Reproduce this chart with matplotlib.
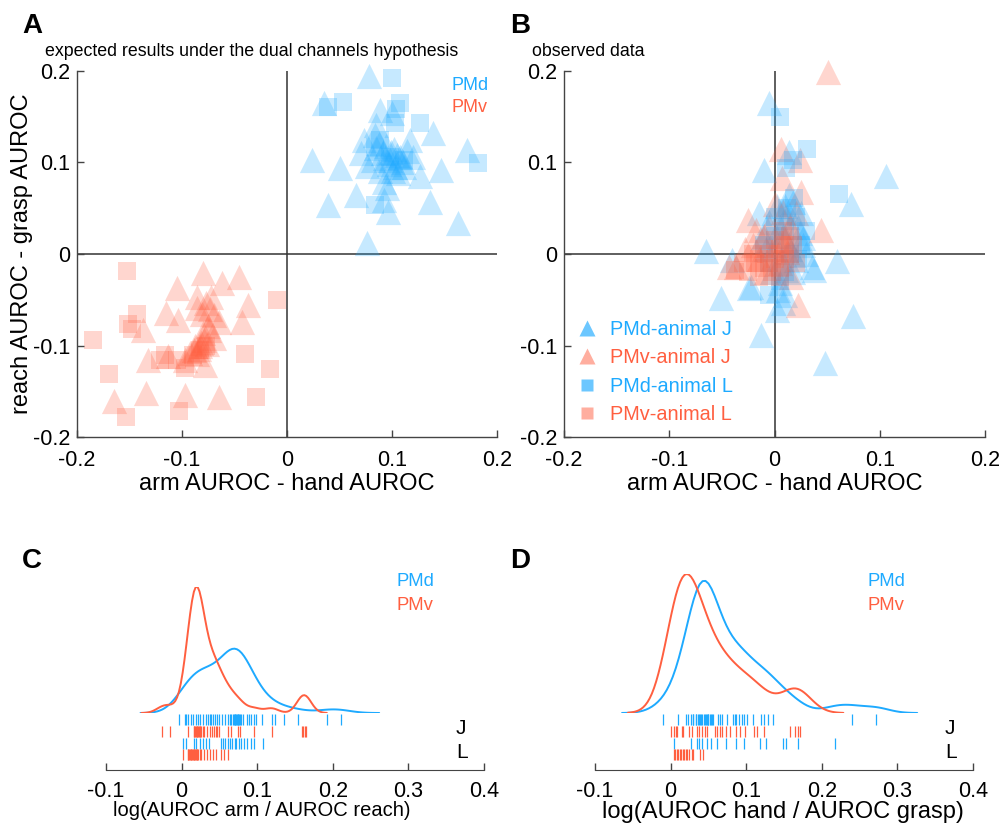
import numpy as np
import matplotlib
matplotlib.use("Agg")
import matplotlib.pyplot as plt
from matplotlib.lines import Line2D

plt.rcParams['font.family'] = ['Liberation Sans', 'DejaVu Sans']
plt.rcParams['axes.unicode_minus'] = False

# ---- data: panel A (expected), (x, y) pairs ----
a_pmd_j = [(0.078, 0.194), (0.035, 0.165), (0.089, 0.157), (0.100, 0.154), (0.139, 0.132),
           (0.085, 0.141), (0.073, 0.125), (0.117, 0.125), (0.171, 0.114), (0.024, 0.103),
           (0.050, 0.094), (0.070, 0.110), (0.085, 0.116), (0.091, 0.110), (0.098, 0.103),
           (0.108, 0.106), (0.114, 0.113), (0.120, 0.106), (0.103, 0.095), (0.089, 0.091),
           (0.082, 0.103), (0.076, 0.096), (0.147, 0.092), (0.127, 0.085), (0.092, 0.079),
           (0.095, 0.072), (0.066, 0.064), (0.092, 0.059), (0.039, 0.054), (0.136, 0.057),
           (0.096, 0.046), (0.163, 0.034), (0.076, 0.012), (0.101, 0.091), (0.111, 0.095),
           (0.094, 0.118), (0.105, 0.108), (0.099, 0.112), (0.088, 0.120), (0.110, 0.100),
           (0.097, 0.098), (0.102, 0.115), (0.093, 0.105), (0.106, 0.088), (0.084, 0.130)]
a_pmd_l = [(0.100, 0.192), (0.053, 0.166), (0.039, 0.161), (0.108, 0.165), (0.104, 0.159),
           (0.127, 0.143), (0.182, 0.099), (0.084, 0.054), (0.089, 0.125), (0.103, 0.143),
           (0.084, 0.117), (0.098, 0.106), (0.111, 0.103)]
a_pmv_j = [(-0.080, -0.021), (-0.062, -0.032), (-0.046, -0.025), (-0.105, -0.037), (-0.086, -0.047),
           (-0.072, -0.047), (-0.037, -0.056), (-0.115, -0.065), (-0.086, -0.059), (-0.077, -0.054),
           (-0.070, -0.067), (-0.104, -0.072), (-0.043, -0.074), (-0.065, -0.074), (-0.137, -0.083),
           (-0.080, -0.086), (-0.074, -0.083), (-0.070, -0.092), (-0.076, -0.098), (-0.083, -0.101),
           (-0.089, -0.105), (-0.086, -0.109), (-0.132, -0.116), (-0.113, -0.112), (-0.097, -0.116),
           (-0.078, -0.121), (-0.165, -0.161), (-0.134, -0.152), (-0.097, -0.154), (-0.065, -0.156),
           (-0.079, -0.094), (-0.082, -0.097), (-0.088, -0.100), (-0.092, -0.108), (-0.084, -0.104),
           (-0.075, -0.079), (-0.081, -0.066), (-0.073, -0.060)]
a_pmv_l = [(-0.152, -0.019), (-0.010, -0.050), (-0.143, -0.066), (-0.151, -0.077), (-0.148, -0.082),
           (-0.185, -0.094), (-0.116, -0.110), (-0.105, -0.116), (-0.097, -0.125), (-0.040, -0.109),
           (-0.170, -0.131), (-0.016, -0.126), (-0.030, -0.156), (-0.153, -0.178), (-0.103, -0.172),
           (-0.083, -0.105), (-0.077, -0.101), (-0.121, -0.116), (-0.090, -0.110)]

# ---- data: panel B (observed) ----
b_pmd_j = [(-0.005, 0.165), (-0.010, 0.092), (0.106, 0.085), (0.073, 0.055), (-0.065, 0.003),
           (0.059, -0.008), (0.038, -0.017), (-0.022, -0.036), (-0.051, -0.048), (0.008, -0.054),
           (0.075, -0.068), (-0.013, -0.089), (0.048, -0.119), (0.014, 0.112), (-0.040, -0.007),
           (0.024, 0.023), (0.027, 0.018), (0.002, 0.052), (0.018, 0.057), (0.003, -0.039),
           (0.010, 0.052), (-0.011, 0.019), (0.027, 0.010), (0.036, -0.014), (-0.024, -0.037),
           (0.005, -0.032), (0.011, -0.017), (0.020, -0.007), (0.002, -0.061), (0.005, 0.030),
           (0.012, 0.040), (-0.005, 0.035), (0.015, 0.005), (0.000, 0.010), (0.008, 0.020),
           (-0.008, 0.005), (0.022, 0.030), (0.030, 0.000), (0.018, -0.020), (-0.002, -0.020),
           (0.010, -0.045), (0.014, 0.065), (-0.015, 0.045), (0.025, 0.045), (0.006, -0.005)]
b_pmv_j = [(0.051, 0.199), (0.006, 0.115), (0.024, 0.103), (0.007, 0.083), (0.025, 0.068),
           (-0.025, 0.037), (0.044, 0.026), (-0.018, 0.026), (-0.043, -0.014), (-0.037, -0.014),
           (0.022, -0.056), (0.008, 0.046), (-0.010, 0.020), (0.000, 0.005), (-0.020, 0.010),
           (0.010, 0.015), (-0.005, 0.030), (0.015, 0.030), (-0.015, -0.005), (0.005, -0.010),
           (0.012, 0.002), (-0.028, 0.005), (0.000, 0.055), (0.020, 0.045), (-0.008, -0.020),
           (0.016, -0.025)]
b_pmd_l = [(0.005, 0.150), (0.031, 0.115), (0.061, 0.066), (0.019, 0.061), (0.011, 0.094),
           (-0.005, -0.045), (0.018, 0.103), (0.020, 0.040), (0.010, 0.030), (0.000, 0.020),
           (0.025, 0.010), (0.015, 0.000), (-0.005, -0.010), (0.010, -0.020), (0.005, -0.030),
           (0.022, -0.005), (0.030, 0.025), (0.000, 0.040), (0.012, 0.050), (-0.010, 0.010)]
b_pmv_l = [(-0.019, -0.010), (-0.038, -0.018), (-0.030, -0.010), (-0.025, -0.020), (-0.015, -0.005),
           (-0.010, -0.015), (-0.005, -0.010), (0.000, -0.005), (0.005, -0.015), (0.010, -0.005),
           (0.015, 0.000), (0.010, 0.010), (0.005, 0.005), (-0.005, 0.000), (-0.010, 0.005),
           (0.000, 0.015), (0.020, -0.010), (0.015, 0.020), (-0.020, 0.000), (0.005, -0.025),
           (-0.015, -0.025), (0.018, 0.010), (0.008, 0.025), (-0.002, -0.020)]

# ---- data: panel C, log(AUROC arm / AUROC reach) ----
c_pmd_j = [-0.004, 0.004, 0.006, 0.008, 0.012, 0.015, 0.019, 0.022, 0.025, 0.028, 0.032, 0.035,
           0.037, 0.039, 0.041, 0.044, 0.047, 0.050, 0.053, 0.057, 0.061, 0.064, 0.066, 0.068,
           0.069, 0.070, 0.071, 0.072, 0.073, 0.074, 0.075, 0.076, 0.077, 0.078, 0.081, 0.086,
           0.089, 0.092, 0.096, 0.099, 0.106, 0.120, 0.123, 0.136, 0.154, 0.192, 0.211]
c_pmv_j = [-0.026, -0.015, 0.008, 0.016, 0.017, 0.018, 0.019, 0.020, 0.021, 0.022, 0.023, 0.024,
           0.025, 0.026, 0.028, 0.030, 0.033, 0.038, 0.040, 0.043, 0.045, 0.047, 0.050, 0.061,
           0.066, 0.075, 0.077, 0.096, 0.119, 0.159, 0.161, 0.163, 0.165]
c_pmd_l = [0.002, 0.006, 0.017, 0.019, 0.024, 0.028, 0.032, 0.036, 0.052, 0.055, 0.057, 0.061,
           0.064, 0.067, 0.070, 0.072, 0.076, 0.079, 0.083, 0.087, 0.092, 0.096, 0.108]
c_pmv_l = [0.002, 0.008, 0.009, 0.010, 0.011, 0.012, 0.013, 0.014, 0.015, 0.016, 0.017, 0.018,
           0.019, 0.020, 0.021, 0.022, 0.024, 0.026, 0.030, 0.033, 0.037, 0.041, 0.046, 0.052,
           0.056, 0.061]

# ---- data: panel D, log(AUROC hand / AUROC grasp) ----
d_pmd_j = [-0.010, 0.010, 0.020, 0.023, 0.027, 0.029, 0.030, 0.033, 0.034, 0.036, 0.037, 0.039,
           0.040, 0.041, 0.044, 0.045, 0.047, 0.048, 0.049, 0.050, 0.052, 0.053, 0.055, 0.056,
           0.063, 0.066, 0.068, 0.074, 0.082, 0.085, 0.087, 0.091, 0.094, 0.097, 0.101, 0.109,
           0.120, 0.124, 0.129, 0.136, 0.240, 0.272]
d_pmv_j = [0.001, 0.004, 0.007, 0.009, 0.015, 0.017, 0.025, 0.028, 0.035, 0.038, 0.042, 0.045,
           0.048, 0.059, 0.062, 0.065, 0.068, 0.073, 0.078, 0.087, 0.092, 0.098, 0.110, 0.114,
           0.123, 0.158, 0.165, 0.168, 0.171]
d_pmd_l = [0.004, 0.027, 0.035, 0.038, 0.041, 0.048, 0.054, 0.061, 0.073, 0.087, 0.097, 0.118,
           0.126, 0.149, 0.153, 0.168, 0.217]
d_pmv_l = [0.004, 0.006, 0.008, 0.010, 0.012, 0.014, 0.016, 0.018, 0.020, 0.022, 0.025, 0.028,
           0.030, 0.039, 0.043]

scatter_ticks = [-0.2, -0.1, 0, 0.1, 0.2]
scatter_ticklabels = ['-0.2', '-0.1', '0', '0.1', '0.2']
ratio_ticks = [-0.1, 0, 0.1, 0.2, 0.3, 0.4]
ratio_ticklabels = ['-0.1', '0', '0.1', '0.2', '0.3', '0.4']
legend_b = ['PMd-animal J', 'PMv-animal J', 'PMd-animal L', 'PMv-animal L']

BLUE = '#1eaaff'
RED = '#ff5f40'
SPINE = '#444444'

W, H = 1003, 826
fig = plt.figure(figsize=(W / 100, H / 100), dpi=100)


def box(x0, y0, x1, y1):
    # pixel box (top-left origin) -> figure fraction
    return [x0 / W, 1 - y1 / H, (x1 - x0) / W, (y1 - y0) / H]


def ftext(x, y, s, **kw):
    fig.text(x / W, 1 - y / H, s, **kw)


def ksdensity(x):
    # normal kernel, same default bandwidth rule as matlab's ksdensity
    x = np.asarray(x, float)
    n = len(x)
    sig = np.median(np.abs(x - np.median(x))) / 0.6745
    bw = sig * (4.0 / (3 * n)) ** 0.2
    xi = np.linspace(x.min() - 3 * bw, x.max() + 3 * bw, 100)
    f = np.exp(-0.5 * ((xi[:, None] - x[None, :]) / bw) ** 2).sum(1) / (n * bw * np.sqrt(2 * np.pi))
    return xi, f


def scatter_panel(ax, groups):
    for pts, marker, color, size in groups:
        p = np.array(pts)
        ax.scatter(p[:, 0], p[:, 1], marker=marker, s=size, color=color, alpha=0.25,
                   linewidths=0, clip_on=False)
    ax.axhline(0, color='#333333', lw=1.1, zorder=0)
    ax.axvline(0, color='#333333', lw=1.1, zorder=0)
    ax.set_xlim(-0.2, 0.2)
    ax.set_ylim(-0.2, 0.2)
    ax.set_xticks(scatter_ticks, scatter_ticklabels)
    ax.set_yticks(scatter_ticks, scatter_ticklabels)
    for s in ['top', 'right']:
        ax.spines[s].set_visible(False)
    for s in ['left', 'bottom']:
        ax.spines[s].set_color(SPINE)
        ax.spines[s].set_linewidth(1.0)
    ax.tick_params(direction='in', length=5, width=1, color=SPINE, labelsize=15.5)
    ax.tick_params(axis='x', pad=9)
    ax.tick_params(axis='y', pad=5)
    ax.set_xlabel('arm AUROC - hand AUROC', fontsize=17)
    ax.xaxis.set_label_coords(0.5, -0.098)


TRI, SQ = 330, 185

axA = fig.add_axes(box(77, 71, 497, 437))
scatter_panel(axA, [(a_pmd_j, '^', BLUE, TRI), (a_pmv_j, '^', RED, TRI),
                    (a_pmd_l, 's', BLUE, SQ), (a_pmv_l, 's', RED, SQ)])
axA.set_ylabel('reach AUROC - grasp AUROC', fontsize=17)
axA.yaxis.set_label_coords(-0.105, 0.5)

axB = fig.add_axes(box(564, 71, 985, 437))
scatter_panel(axB, [(b_pmd_j, '^', BLUE, TRI), (b_pmv_j, '^', RED, TRI),
                    (b_pmd_l, 's', BLUE, SQ), (b_pmv_l, 's', RED, SQ)])
handles = [Line2D([], [], marker='^', ls='none', ms=11, mfc=BLUE, mec='none', alpha=0.65),
           Line2D([], [], marker='^', ls='none', ms=11, mfc=RED, mec='none', alpha=0.5),
           Line2D([], [], marker='s', ls='none', ms=8, mfc=BLUE, mec='none', alpha=0.65),
           Line2D([], [], marker='s', ls='none', ms=8, mfc=RED, mec='none', alpha=0.5)]
axB.legend(handles, legend_b, loc='upper left', bbox_to_anchor=(0.031, 0.320), frameon=False,
           fontsize=14.3, labelcolor=[BLUE, RED, BLUE, RED], handlelength=1.0,
           handletextpad=0.65, labelspacing=0.47, borderpad=0, borderaxespad=0)

ftext(45, 56.5, 'expected results under the dual channels hypothesis', fontsize=12.8, va='baseline')
ftext(532, 56.5, 'observed data', fontsize=12.8, va='baseline')
ftext(452, 86, 'PMd', color=BLUE, fontsize=13, va='center')
ftext(452, 108, 'PMv', color=RED, fontsize=13, va='center')


def ratio_panel(x0, x1, peak_y, pmd_j, pmv_j, pmd_l, pmv_l, xlabel, leg_x, label_size):
    kde = fig.add_axes(box(x0, peak_y, x1, 713))
    peaks = []
    for vals, color in [(pmd_j + pmd_l, BLUE), (pmv_j + pmv_l, RED)]:
        xi, f = ksdensity(vals)
        kde.plot(xi, f, color=color, lw=1.4, solid_capstyle='round')
        peaks.append(f.max())
    kde.set_xlim(-0.1, 0.4)
    kde.set_ylim(0, max(peaks))
    kde.axis('off')

    rug = fig.add_axes(box(x0, 713, x1, 770))
    rows = [(pmd_j, BLUE), (pmv_j, RED), (pmd_l, BLUE), (pmv_l, RED)]
    for i, (vals, color) in enumerate(rows):
        rug.vlines(vals, 1 + 11.8 * i, 12 + 11.8 * i, color=color, lw=0.9)
    rug.set_xlim(-0.1, 0.4)
    rug.set_ylim(57, 0)
    rug.set_yticks([])
    for s in ['top', 'right', 'left']:
        rug.spines[s].set_visible(False)
    rug.spines['bottom'].set_color(SPINE)
    rug.set_xticks(ratio_ticks, ratio_ticklabels)
    rug.tick_params(direction='in', length=5, width=1, color=SPINE, labelsize=15.5, pad=8)
    rug.set_xlabel(xlabel, fontsize=label_size)

    ftext(leg_x, 581, 'PMd', color=BLUE, fontsize=13.3, va='center')
    ftext(leg_x, 605, 'PMv', color=RED, fontsize=13.3, va='center')
    ftext(x1 - 28, 729, 'J', fontsize=15, va='center')
    ftext(x1 - 28, 753, 'L', fontsize=15, va='center')
    return rug


rugC = ratio_panel(106, 484, 587, c_pmd_j, c_pmv_j, c_pmd_l, c_pmv_l,
                   'log(AUROC arm / AUROC reach)', 397, 14.5)
rugC.xaxis.set_label_coords(262 / W, 1 - 801 / H, transform=fig.transFigure)
rugD = ratio_panel(595, 973, 574, d_pmd_j, d_pmv_j, d_pmd_l, d_pmv_l,
                   'log(AUROC hand / AUROC grasp)', 868, 17)
rugD.xaxis.set_label_coords(783 / W, 1 - 801 / H, transform=fig.transFigure)

for letter, x, y in [('A', 22, 33), ('B', 510, 33), ('C', 22, 568), ('D', 510, 568)]:
    ftext(x, y, letter, fontsize=20, fontweight='bold', va='baseline')

fig.savefig('out.png', dpi=100)
